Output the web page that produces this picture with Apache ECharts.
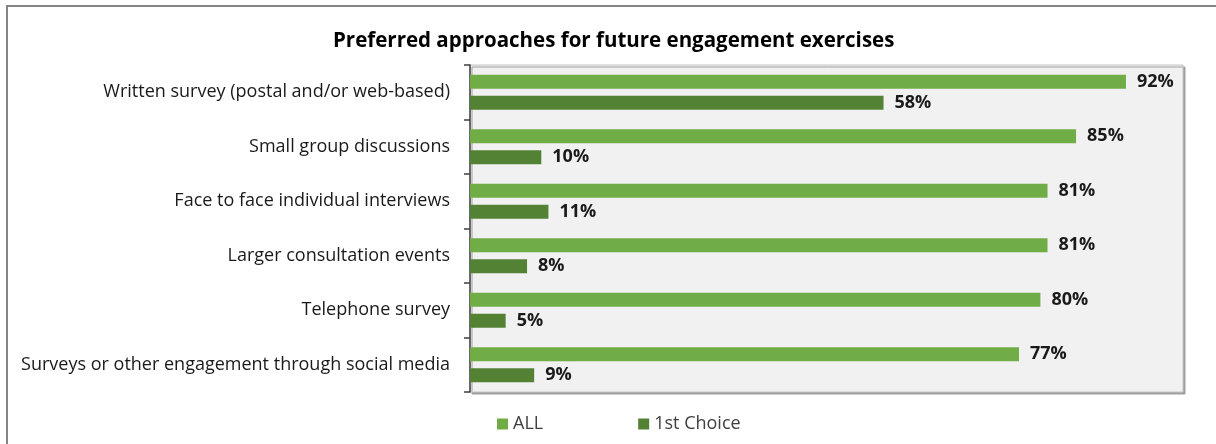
<!DOCTYPE html>
<html>
<head>
<meta charset="utf-8">
<script src="https://cdn.jsdelivr.net/npm/echarts@6/dist/echarts.min.js"></script>
<style>
  html, body { margin: 0; padding: 0; background: #ffffff; }
  #chart { width: 1216px; height: 444px; }
</style>
</head>
<body>
<div id="chart"></div>
<script>
// Engagement approaches, listed top to bottom
const categories = [
  'Written survey (postal and/or web-based)',
  'Small group discussions',
  'Face to face individual interviews',
  'Larger consultation events',
  'Telephone survey',
  'Surveys or other engagement through social media'
];
// Percentage of respondents naming each approach
const allValues = [92, 85, 81, 81, 80, 77];
// Percentage choosing each approach as their first preference
const firstChoiceValues = [58, 10, 11, 8, 5, 9];
const seriesNames = ['ALL', '1st Choice'];

const FONT = '"Open Sans", "Noto Sans", sans-serif';

const chart = echarts.init(document.getElementById('chart'));

const valueLabel = {
  show: true,
  position: 'right',
  distance: 11,
  formatter: '{c}%',
  fontFamily: FONT,
  fontWeight: 'bold',
  fontSize: 18,
  color: '#1a1a1a'
};

chart.setOption({
  animation: false,
  backgroundColor: '#ffffff',
  title: {
    text: 'Preferred approaches for future engagement exercises',
    left: 333,
    top: 31,
    padding: 0,
    textStyle: {
      fontFamily: FONT,
      fontWeight: 'bold',
      fontSize: 20.5,
      color: '#000000'
    }
  },
  graphic: [
    {
      type: 'rect',
      silent: true,
      shape: { x: 7, y: 6, width: 1260, height: 500 },
      style: { fill: 'none', stroke: '#858585', lineWidth: 2 },
      z: -1
    }
  ],
  legend: {
    data: seriesNames,
    left: 492,
    top: 410,
    icon: 'rect',
    itemWidth: 11,
    itemHeight: 11,
    itemGap: 95,
    textStyle: { fontFamily: FONT, fontSize: 18, color: '#404040' }
  },
  grid: {
    left: 470,
    right: 33,
    top: 65,
    bottom: 52,
    show: true,
    backgroundColor: '#f1f1f1',
    borderColor: '#c4c4c4',
    borderWidth: 1,
    shadowColor: '#a0a0a0',
    shadowOffsetX: 2,
    shadowOffsetY: 2,
    shadowBlur: 0
  },
  xAxis: {
    type: 'value',
    min: 0,
    max: 100,
    show: false,
    splitLine: { show: false }
  },
  yAxis: {
    type: 'category',
    data: categories,
    inverse: true,
    axisLine: { show: true, lineStyle: { color: '#404040', width: 1.5 } },
    axisTick: { show: true, length: 6, lineStyle: { color: '#404040', width: 1.5 } },
    axisLabel: {
      margin: 20,
      fontFamily: FONT,
      fontSize: 18,
      color: '#1a1a1a'
    }
  },
  series: [
    {
      name: seriesNames[0],
      type: 'bar',
      data: allValues,
      barWidth: 14,
      barGap: '50%',
      itemStyle: { color: '#70ad47' },
      label: valueLabel
    },
    {
      name: seriesNames[1],
      type: 'bar',
      data: firstChoiceValues,
      barWidth: 14,
      barGap: '50%',
      itemStyle: { color: '#548235' },
      label: valueLabel
    }
  ]
});
</script>
</body>
</html>
